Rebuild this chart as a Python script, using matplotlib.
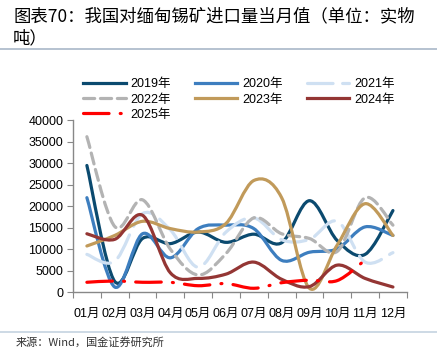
import numpy as np
import matplotlib
matplotlib.use("Agg")
import matplotlib.pyplot as plt
from matplotlib.path import Path
from matplotlib.patches import PathPatch
from matplotlib.lines import Line2D

plt.rcParams['font.family'] = ['Liberation Sans', 'Noto Sans CJK SC']

months = ['01月', '02月', '03月', '04月', '05月', '06月',
          '07月', '08月', '09月', '10月', '11月', '12月']

# 当月值, 实物吨
y2019 = [29500, 2500, 12500, 11300, 14000, 11600, 13500, 11500, 21300, 12000, 8800, 19000]
y2020 = [22000, 1200, 13600, 8000, 14800, 15600, 14800, 7400, 9300, 10100, 15200, 13200]
y2021 = [8800, 7200, 18300, 14500, 5800, 14000, 17300, 12200, 12300, 16500, 7000, 9200]
y2022 = [36200, 15300, 21500, 10000, 4000, 9000, 17300, 13600, 12500, 9500, 22000, 15600]
y2023 = [10750, 13200, 16500, 14800, 14000, 16000, 26000, 22000, 900, 11000, 20600, 13200]
y2024 = [13600, 12300, 17900, 4500, 3200, 4200, 7000, 3000, 1300, 6300, 3200, 1200]
y2025 = [2300, 2600, 2300, 2300, 1500, 2000, 900, 2200, 2800, 2700, 7500]

series = [
    ('2019年', y2019, '#0b4a6f', '-'),
    ('2020年', y2020, '#3d7ebf', '-'),
    ('2021年', y2021, '#cfe0f2', (0, (8, 3))),
    ('2022年', y2022, '#b3b3b3', (0, (3.5, 1.8))),
    ('2023年', y2023, '#c19a5a', '-'),
    ('2024年', y2024, '#943634', '-'),
    ('2025年', y2025, '#ff0000', (0, (8, 3.5, 0.3, 3.5))),
]


def smooth_path(xs, ys):
    # cubic bezier through the points, like the office "smoothed line"
    p = np.column_stack([xs, ys]).astype(float)
    n = len(p)
    verts = [p[0]]
    codes = [Path.MOVETO]
    for i in range(n - 1):
        p0 = p[max(i - 1, 0)]
        p1 = p[i]
        p2 = p[i + 1]
        p3 = p[min(i + 2, n - 1)]
        verts += [p1 + (p2 - p0) / 6, p2 - (p3 - p1) / 6, p2]
        codes += [Path.CURVE4] * 3
    return Path(verts, codes)


fig = plt.figure(figsize=(4.37, 3.52), dpi=100)
ax = fig.add_axes([0.167, 0.17, 0.764, 0.488])

lw = 2.3
handles = []
for name, vals, col, ls in series:
    xs = np.arange(len(vals))
    patch = PathPatch(smooth_path(xs, vals), fill=False, edgecolor=col,
                      lw=lw, linestyle=ls, capstyle='round', joinstyle='round')
    ax.add_patch(patch)
    handles.append(Line2D([], [], color=col, lw=lw, linestyle=ls,
                          dash_capstyle='round', label=name))

ax.set_xlim(-0.5, 11.5)
ax.set_ylim(0, 40000)
ax.set_yticks(np.arange(0, 40001, 5000))
ax.set_xticks(np.arange(-0.5, 12, 1))
ax.set_xticklabels([])
ax.set_xticks(np.arange(12), minor=True)
ax.set_xticklabels(months, minor=True)
ax.tick_params(axis='x', which='minor', length=0, pad=11, labelsize=9)
ax.tick_params(axis='x', which='major', length=4, color='#888888', direction='out')
ax.tick_params(axis='y', length=4, color='#888888', labelsize=9, pad=3)
for s in ['top', 'right']:
    ax.spines[s].set_visible(False)
for s in ['left', 'bottom']:
    ax.spines[s].set_color('#888888')
    ax.spines[s].set_linewidth(1)

order = [0, 3, 6, 1, 4, 2, 5]
fig.legend([handles[i] for i in order], [handles[i].get_label() for i in order],
           ncol=3, loc='upper left', bbox_to_anchor=(0.19, 0.777),
           frameon=False, fontsize=9, handlelength=3.4, handletextpad=0.4,
           columnspacing=1.9, labelspacing=0.25, borderpad=0, borderaxespad=0)

fig.text(0.03, 0.955, '图表70：我国对缅甸锡矿进口量当月值（单位：实物',
         fontsize=12.5, family=['Noto Sans CJK SC'], va='center', style='italic')
fig.text(0.03, 0.89, '吨）', fontsize=12.5, family=['Noto Sans CJK SC'],
         va='center', style='italic')
fig.add_artist(Line2D([0, 1], [0.86, 0.86], color='#a9b8c8', lw=1.2))
fig.add_artist(Line2D([0, 1], [0.057, 0.057], color='#c5d3e0', lw=1.2))
fig.text(0.035, 0.012, '来源：Wind，国金证券研究所', fontsize=8,
         family=['Noto Sans CJK SC'], va='bottom', color='#333333')

fig.savefig('out.png', dpi=100)
